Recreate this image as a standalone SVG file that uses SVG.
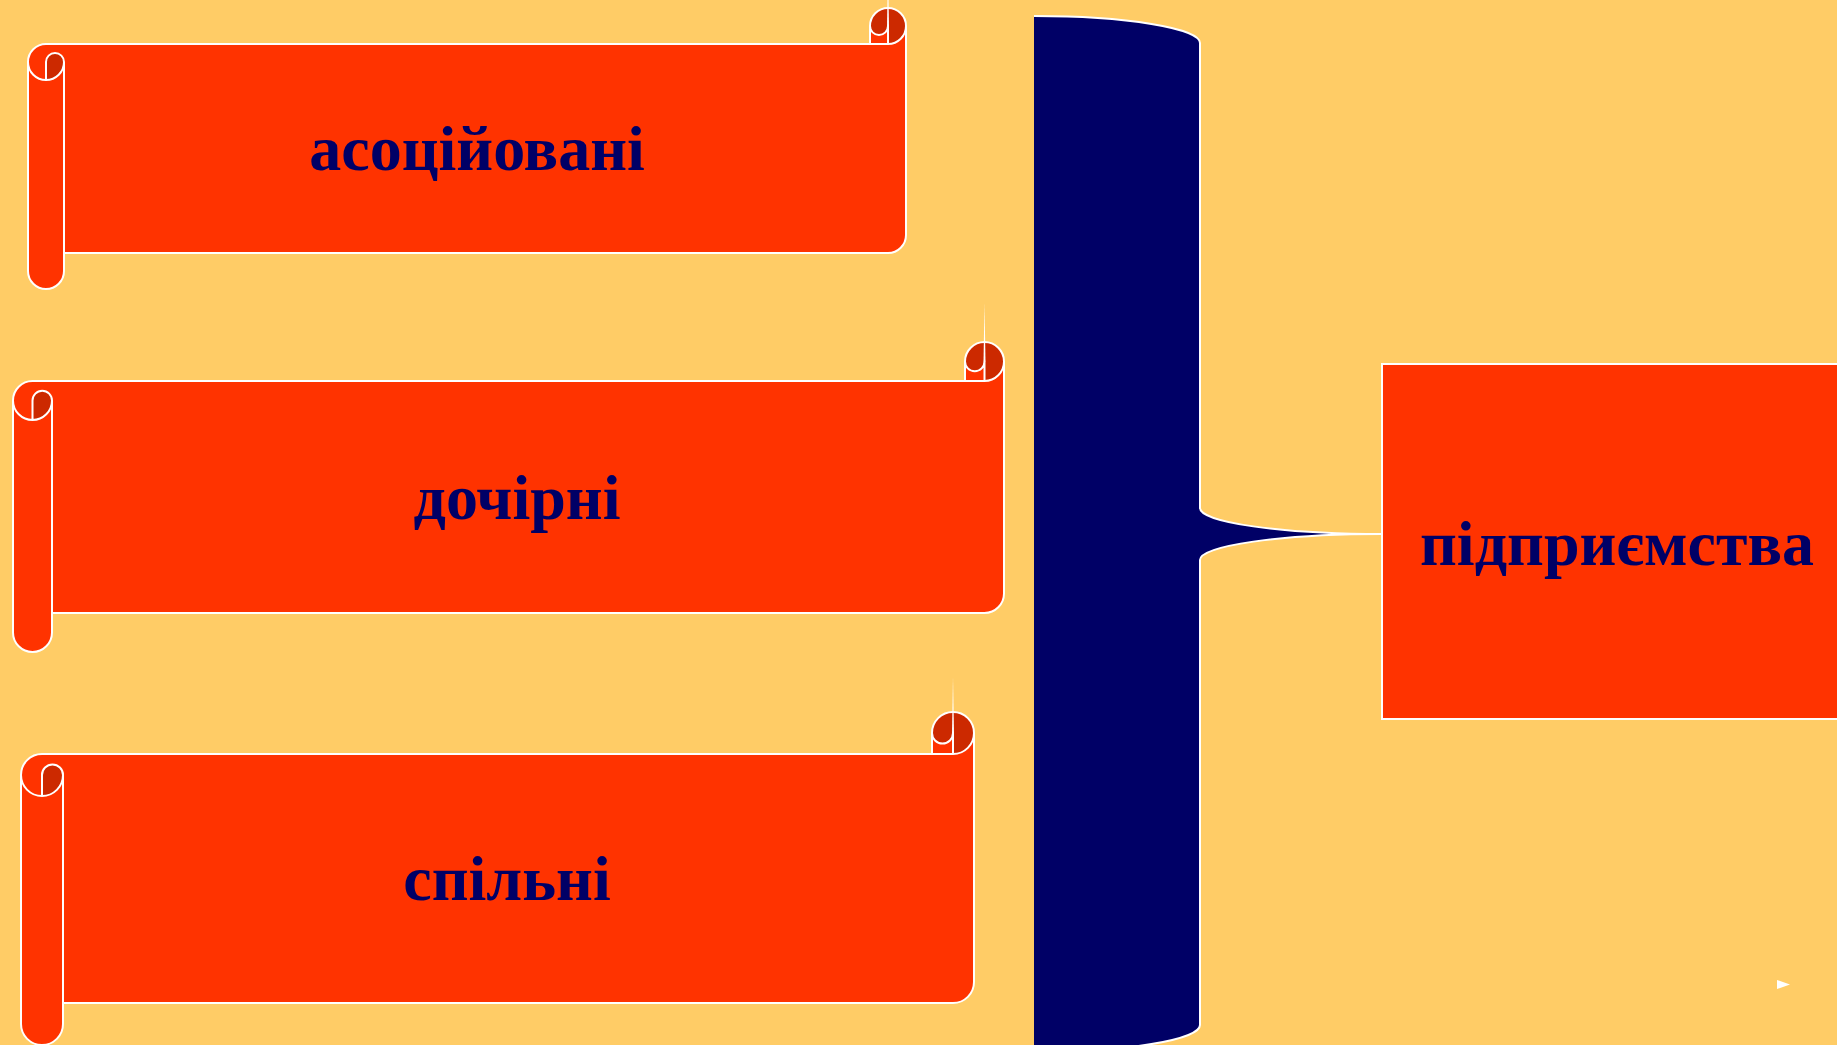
<svg xmlns="http://www.w3.org/2000/svg" width="1837" height="1045" viewBox="0 0 1837 1045">
<style>
.bg{fill:#FFCC66}
.bodyfill{fill:#FF3300;stroke:none}
.dark{fill:#CC2900;stroke:none}
.ln{fill:none;stroke:#FFFFFF;stroke-width:2;stroke-linejoin:round}
.spike{fill:#FFFFFF}
.lbl{font-family:"Liberation Serif","Times New Roman",serif;font-weight:bold;font-size:64px;fill:#000066;text-anchor:middle}
.brace{fill:#000066;stroke:none}
.node{fill:#FF3300;stroke:#FFFFFF;stroke-width:2}
</style>
<rect class="bg" x="0" y="0" width="1837" height="1045"/>

<g id="connectors">
  <path class="brace" d="M1034,16 A166,27 0 0 1 1200,43 L1200,508 A182,26 0 0 0 1382,534 A182,26 0 0 0 1200,560 L1200,1025 A166,27 0 0 1 1034,1052 Z"/>
  <path class="ln" d="M1034,16 A166,27 0 0 1 1200,43 L1200,508 A182,26 0 0 0 1382,534 A182,26 0 0 0 1200,560 L1200,1025 A166,27 0 0 1 1034,1052"/>
</g>

<g id="node-enterprise">
  <rect class="node" x="1382" y="364" width="470" height="355"/>
  <text class="lbl" x="1617" y="565">підприємства</text>
</g>

<g id="scroll-associated">
  <path class="bodyfill" d="M28,62 A18,18 0 0 1 46,44 L870,44 L870,26 A18,18 0 0 1 906,26 L906,235 A18,18 0 0 1 888,253 L64,253 L64,271 A18,18 0 0 1 28,271 Z"/>
  <path class="dark" d="M46,80 A18,18 0 0 0 64,62 A9,9 0 0 0 46,62 Z"/>
  <path class="dark" d="M888,44 A18,18 0 1 0 870,26 A9,9 0 0 0 888,26 Z"/>
  <path class="ln" d="M28,62 A18,18 0 0 1 46,44 L870,44 L870,26 A18,18 0 0 1 906,26 L906,235 A18,18 0 0 1 888,253 L64,253 L64,271 A18,18 0 0 1 28,271 Z"/>
  <path class="ln" d="M870,44 L888,44 A18,18 0 0 0 906,26"/>
  <path class="ln" d="M888,44 L888,26 A9,9 0 0 1 870,26"/>
  <path class="ln" d="M46,80 L46,62 A9,9 0 0 1 64,62 A18,18 0 0 1 28,62"/>
  <path class="ln" d="M64,62 L64,253"/>
  <polygon class="spike" points="887,26 888,-31 889,26"/>
  <text class="lbl" x="477" y="170">асоційовані</text>
</g>

<g id="scroll-subsidiary">
  <path class="bodyfill" d="M13,400.5 A19.5,19.5 0 0 1 32.5,381 L965,381 L965,361.5 A19.5,19.5 0 0 1 1004,361.5 L1004,593.5 A19.5,19.5 0 0 1 984.5,613 L52,613 L52,632.5 A19.5,19.5 0 0 1 13,632.5 Z"/>
  <path class="dark" d="M32.5,420 A19.5,19.5 0 0 0 52,400.5 A9.75,9.75 0 0 0 32.5,400.5 Z"/>
  <path class="dark" d="M984.5,381 A19.5,19.5 0 1 0 965,361.5 A9.75,9.75 0 0 0 984.5,361.5 Z"/>
  <path class="ln" d="M13,400.5 A19.5,19.5 0 0 1 32.5,381 L965,381 L965,361.5 A19.5,19.5 0 0 1 1004,361.5 L1004,593.5 A19.5,19.5 0 0 1 984.5,613 L52,613 L52,632.5 A19.5,19.5 0 0 1 13,632.5 Z"/>
  <path class="ln" d="M965,381 L984.5,381 A19.5,19.5 0 0 0 1004,361.5"/>
  <path class="ln" d="M984.5,381 L984.5,361.5 A9.75,9.75 0 0 1 965,361.5"/>
  <path class="ln" d="M32.5,420 L32.5,400.5 A9.75,9.75 0 0 1 52,400.5 A19.5,19.5 0 0 1 13,400.5"/>
  <path class="ln" d="M52,400.5 L52,613"/>
  <polygon class="spike" points="983.5,361.5 984.5,303 985.5,361.5"/>
  <text class="lbl" x="517" y="519">дочірні</text>
</g>

<g id="scroll-joint">
  <path class="bodyfill" d="M21,775 A21,21 0 0 1 42,754 L932,754 L932,733 A21,21 0 0 1 974,733 L974,982 A21,21 0 0 1 953,1003 L63,1003 L63,1024 A21,21 0 0 1 21,1024 Z"/>
  <path class="dark" d="M42,796 A21,21 0 0 0 63,775 A10.5,10.5 0 0 0 42,775 Z"/>
  <path class="dark" d="M953,754 A21,21 0 1 0 932,733 A10.5,10.5 0 0 0 953,733 Z"/>
  <path class="ln" d="M21,775 A21,21 0 0 1 42,754 L932,754 L932,733 A21,21 0 0 1 974,733 L974,982 A21,21 0 0 1 953,1003 L63,1003 L63,1024 A21,21 0 0 1 21,1024 Z"/>
  <path class="ln" d="M932,754 L953,754 A21,21 0 0 0 974,733"/>
  <path class="ln" d="M953,754 L953,733 A10.5,10.5 0 0 1 932,733"/>
  <path class="ln" d="M42,796 L42,775 A10.5,10.5 0 0 1 63,775 A21,21 0 0 1 21,775"/>
  <path class="ln" d="M63,775 L63,1003"/>
  <polygon class="spike" points="952,733 953,677 954,733"/>
  <text class="lbl" x="507" y="900">спільні</text>
</g>

<polygon class="spike" points="1777,980 1790,984.5 1777,989"/>
</svg>
